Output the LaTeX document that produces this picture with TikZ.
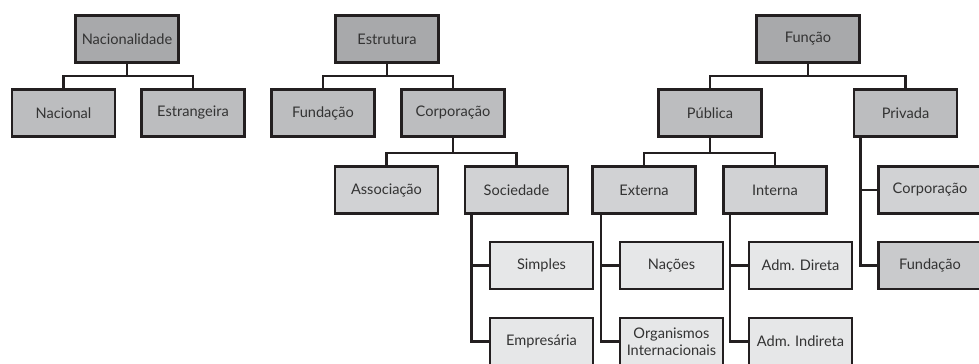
\documentclass[tikz,border=0pt]{standalone}
\usepackage{fontspec}
\setmainfont{Lato}
\definecolor{cinzaA}{HTML}{A8A9AB}
\definecolor{cinzaB}{HTML}{BCBDBF}
\definecolor{cinzaC}{HTML}{D1D2D4}
\definecolor{cinzaD}{HTML}{E6E7E8}
\definecolor{traco}{HTML}{231F20}

\begin{document}
\begin{tikzpicture}[x=0.02cm, y=-0.02cm,
		caixa/.style={draw=traco, line width=1.6pt, minimum width=2.06cm, minimum height=0.94cm,
			inner sep=1pt, align=center, font=\fontsize{8.3}{9.8}\selectfont, text=black!80},
		nivelA/.style={caixa, fill=cinzaA},
		nivelB/.style={caixa, fill=cinzaB},
		nivelC/.style={caixa, fill=cinzaC},
		nivelD/.style={caixa, fill=cinzaD},
		liga/.style={draw=traco, line width=1.3pt}]
	\useasboundingbox (0,0) rectangle (979,364);

	% nacionalidade
	\node[nivelA] (nacio) at (127,39) {Nacionalidade};
	\node[nivelB] (nacional) at (63.5,113) {Nacional};
	\node[nivelB] (estrang) at (193,113) {Estrangeira};

	% estrutura
	\node[nivelA] (estru) at (387,39) {Estrutura};
	\node[nivelB] (fund) at (323,113) {Fundação};
	\node[nivelB] (corp) at (453,113) {Corporação};
	\node[nivelC] (assoc) at (386.5,190) {Associação};
	\node[nivelC] (socied) at (516.5,190) {Sociedade};
	\node[nivelD] (simples) at (541.5,265.5) {Simples};
	\node[nivelD] (empres) at (541.5,341.5) {Empresária};

	% funcao
	\node[nivelA] (funcao) at (808,39) {Função};
	\node[nivelB] (publica) at (710,113) {Pública};
	\node[nivelB] (privada) at (905.5,113) {Privada};
	\node[nivelC] (externa) at (644,190) {Externa};
	\node[nivelC] (interna) at (775,190) {Interna};
	\node[nivelD] (nacoes) at (671.5,265.5) {Nações};
	\node[nivelD] (organ) at (671.5,341.5) {Organismos\\Internacionais};
	\node[nivelD] (direta) at (800.5,265.5) {Adm. Direta};
	\node[nivelD] (indireta) at (800.5,341.5) {Adm. Indireta};
	\node[nivelC] (corpP) at (930,190) {Corporação};
	\node[caixa, fill=cinzaC!96!black] (fundP) at (930,265.5) {Fundação};

	% ligacoes em arvore
	\foreach \f in {nacional,estrang}
		\draw[liga] (nacio.south) -- ++(0,12) -| (\f.north);
	\foreach \f in {fund,corp}
		\draw[liga] (estru.south) -- ++(0,12) -| (\f.north);
	\foreach \f in {publica,privada}
		\draw[liga] (funcao.south) -- ++(0,12) -| (\f.north);
	\foreach \f in {assoc,socied}
		\draw[liga] (corp.south) -- ++(0,15) -| (\f.north);
	\foreach \f in {externa,interna}
		\draw[liga] (publica.south) -- ++(0,15) -| (\f.north);

	% ligacoes em lista
	\foreach \f in {simples,empres}
		\draw[liga] (socied.south west) ++(8,0) |- (\f.west);
	\foreach \f in {nacoes,organ}
		\draw[liga] (externa.south west) ++(10,0) |- (\f.west);
	\foreach \f in {direta,indireta}
		\draw[liga] (interna.south west) ++(8,0) |- (\f.west);
	\foreach \f in {corpP,fundP}
		\draw[liga] (privada.south west) ++(8,0) |- (\f.west);
\end{tikzpicture}
\end{document}
